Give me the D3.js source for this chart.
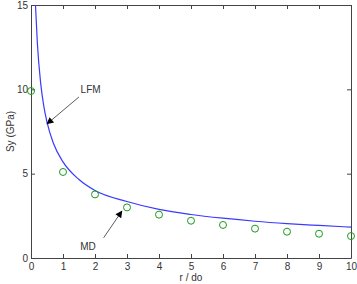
<!DOCTYPE html>
<html>
<head>
<meta charset="utf-8">
<script src="https://cdn.jsdelivr.net/npm/d3@7"></script>
<style>
  body { margin: 0; background: #fff; }
  text { font-family: "Liberation Sans", Arial, sans-serif; }
</style>
</head>
<body>
<div id="chart"></div>
<script>
// MD points (circles)
const mdR = [0, 1, 2, 3, 4, 5, 6, 7, 8, 9, 10]
const mdSy = [9.9, 5.1, 3.77, 3.0, 2.57, 2.21, 1.96, 1.74, 1.56, 1.44, 1.30]

// LFM curve
const lfmR = [0.14, 0.2, 0.3, 0.4, 0.5, 0.7, 1, 1.5, 2, 3, 4, 5, 6, 7, 8, 9, 10]
const lfmSy = [15, 12.7, 10.4, 9.0, 8.05, 6.8, 5.7, 4.65, 4.0, 3.35, 2.88, 2.58, 2.36, 2.18, 2.04, 1.93, 1.83]

const xTicks = [0, 1, 2, 3, 4, 5, 6, 7, 8, 9, 10]
const yTicks = [0, 5, 10, 15]

const width = 357
const height = 284
const margin = { top: 5, right: 6, bottom: 26, left: 31 }
const w = width - margin.left - margin.right
const h = height - margin.top - margin.bottom

const svg = d3.select("#chart").append("svg").attr("width", width).attr("height", height)
const g = svg.append("g").attr("transform", `translate(${margin.left},${margin.top})`)

const x = d3.scaleLinear().domain([0, 10]).range([0, w])
const y = d3.scaleLinear().domain([0, 15]).range([h, 0])

const axisColor = "#444"

// axes (bottom/left with labels, top/right ticks only)
const xAxis = g.append("g").attr("transform", `translate(0,${h})`)
  .call(d3.axisBottom(x).tickValues(xTicks).tickSizeInner(-4).tickSizeOuter(0).tickPadding(5))
const xTop = g.append("g")
  .call(d3.axisTop(x).tickValues(xTicks).tickSizeInner(-4).tickSizeOuter(0).tickFormat(""))
const yAxis = g.append("g")
  .call(d3.axisLeft(y).tickValues(yTicks).tickSizeInner(-4).tickSizeOuter(0).tickPadding(3))
const yRight = g.append("g").attr("transform", `translate(${w},0)`)
  .call(d3.axisRight(y).tickValues(yTicks).tickSizeInner(-4).tickSizeOuter(0).tickFormat(""))

;[xAxis, xTop, yAxis, yRight].forEach(a => {
  a.selectAll("path,line").attr("stroke", axisColor)
  a.selectAll("text").attr("fill", "#333").style("font-size", "10px")
})

// LFM line
const line = d3.line().x((d, i) => x(lfmR[i])).y(d => y(d)).curve(d3.curveMonotoneX)
g.append("path").datum(lfmSy).attr("d", line)
  .attr("fill", "none").attr("stroke", "#3a3aff").attr("stroke-width", 1.2)

// MD markers
g.selectAll("circle.md").data(mdSy).enter().append("circle")
  .attr("class", "md")
  .attr("cx", (d, i) => x(mdR[i])).attr("cy", d => y(d)).attr("r", 3.5)
  .attr("fill", "none").attr("stroke", "#1a9a1a").attr("stroke-width", 1)

// labels
svg.append("text").attr("x", margin.left + w / 2).attr("y", 281)
  .attr("text-anchor", "middle").attr("fill", "#333").style("font-size", "10px").text("r / do")
svg.append("text").attr("transform", `translate(14,${margin.top + h / 2}) rotate(-90)`)
  .attr("text-anchor", "middle").attr("fill", "#333").style("font-size", "10px").text("Sy (GPa)")

// arrows
const defs = svg.append("defs")
defs.append("marker").attr("id", "ah").attr("viewBox", "0 0 10 10")
  .attr("refX", 9).attr("refY", 5).attr("markerWidth", 9).attr("markerHeight", 7)
  .attr("orient", "auto").attr("markerUnits", "userSpaceOnUse")
  .append("path").attr("d", "M0,0 L10,5 L0,10 Z").attr("fill", "#000")

function arrow(r0, s0, r1, s1) {
  g.append("line").attr("x1", x(r0)).attr("y1", y(s0)).attr("x2", x(r1)).attr("y2", y(s1))
    .attr("stroke", "#333").attr("stroke-width", 0.8).attr("marker-end", "url(#ah)")
}
// LFM arrow, from label down to the curve
arrow(1.5, 9.55, 0.5, 7.95)
svg.append("text").attr("x", margin.left + x(1.55)).attr("y", margin.top + y(9.8))
  .attr("fill", "#333").style("font-size", "10px").text("LFM")
// MD arrow
arrow(2.27, 1.2, 2.84, 2.78)
svg.append("text").attr("x", margin.left + x(1.78)).attr("y", margin.top + y(0.5))
  .attr("text-anchor", "middle").attr("fill", "#333").style("font-size", "10px").text("MD")
</script>
</body>
</html>
